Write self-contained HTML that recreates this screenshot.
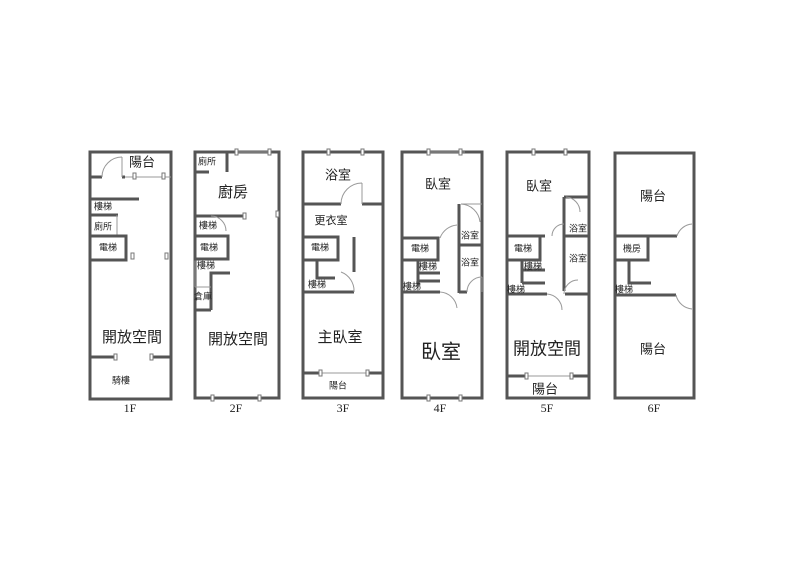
<!DOCTYPE html>
<html><head><meta charset="utf-8"><style>
body{margin:0;background:#fff;width:800px;height:565px;overflow:hidden}
svg{display:block}
.w{stroke:#555;stroke-width:3;fill:none}
.t{stroke:#999;stroke-width:1;fill:none}
.win{fill:#fff;stroke:#777;stroke-width:1}
text{font-family:"Liberation Sans","Noto Sans CJK TC",sans-serif;fill:#222;text-anchor:middle;dominant-baseline:middle}
.s{font-size:9px}.m{font-size:13px}.l{font-size:15px}.xl{font-size:20px}
.f{font-family:"Liberation Serif",serif;font-size:12px}
</style></head><body>
<svg width="800" height="565" viewBox="0 0 800 565">
<!-- outer rects -->
<rect class="w" x="90" y="152" width="81" height="247"/>
<rect class="w" x="195" y="152" width="84" height="246"/>
<rect class="w" x="303" y="152" width="80" height="246"/>
<rect class="w" x="402" y="152" width="80" height="246"/>
<rect class="w" x="507" y="152" width="82" height="246"/>
<rect class="w" x="615" y="153" width="79" height="245"/>

<!-- 1F -->
<path class="w" d="M90 177H102 M122 177H125 M90 199H139 M90 215H118 M90 357H116 M152 357H171"/>
<path class="t" d="M125 177H171 M102 177A20 20 0 0 1 122 157 M122 157V177 M117 215V236"/>
<rect class="w" x="90" y="236" width="36" height="24"/>
<rect class="win" x="131" y="253" width="3" height="6"/><rect class="win" x="165" y="253" width="3" height="6"/>
<rect class="win" x="133" y="173" width="3" height="6"/><rect class="win" x="162" y="173" width="3" height="6"/>
<rect class="win" x="114" y="354" width="3" height="6"/><rect class="win" x="150" y="354" width="3" height="6"/>
<text class="m" x="142" y="163">陽台</text>
<text class="s" x="103" y="207">樓梯</text>
<text class="s" x="103" y="227">廁所</text>
<text class="s" x="108" y="248">電梯</text>
<text class="l" x="132" y="338">開放空間</text>
<text class="s" x="121" y="381">騎樓</text>
<text class="f" x="130" y="409">1F</text>

<!-- 2F -->
<path class="w" d="M195 172H209 M227 152V172 M195 216H244 M211 310V273H230 M195 310H211"/>
<path class="t" d="M237 152H270 M211 216A15 15 0 0 1 226 231 M195 287H211 M195 260V287"/>
<rect class="w" x="195" y="236" width="33" height="23"/>
<rect class="win" x="235" y="149" width="3" height="6"/><rect class="win" x="268" y="149" width="3" height="6"/>
<rect class="win" x="243" y="213" width="3" height="6"/><rect class="win" x="276" y="211" width="3" height="6"/>
<rect class="win" x="211" y="395" width="3" height="6"/><rect class="win" x="258" y="395" width="3" height="6"/>
<text class="s" x="207" y="162">廁所</text>
<text class="l" x="233" y="193">廚房</text>
<text class="s" x="208" y="226">樓梯</text>
<text class="s" x="209" y="248">電梯</text>
<text class="s" x="206" y="266">樓梯</text>
<text class="s" x="203" y="297">倉庫</text>
<text class="l" x="238" y="340">開放空間</text>
<text class="f" x="236" y="409">2F</text>

<!-- 3F -->
<path class="w" d="M303 204H341 M362 204H383 M354 237V272 M317 260V278H335 M303 292H354 M303 373H320 M368 373H383"/>
<path class="t" d="M341 204A21 21 0 0 1 362 183 M362 183V204 M341 272A20 20 0 0 1 354 292 M320 373H368"/>
<rect class="w" x="303" y="237" width="35" height="23"/>
<rect class="win" x="327" y="149" width="3" height="6"/><rect class="win" x="361" y="149" width="3" height="6"/>
<rect class="win" x="319" y="370" width="3" height="6"/><rect class="win" x="366" y="370" width="3" height="6"/>
<text class="m" x="338" y="176">浴室</text>
<text class="s" x="331" y="221" style="font-size:11px">更衣室</text>
<text class="s" x="320" y="248">電梯</text>
<text class="s" x="317" y="285">樓梯</text>
<text class="l" x="340" y="338">主臥室</text>
<text class="s" x="338" y="386">陽台</text>
<text class="f" x="343" y="409">3F</text>

<!-- 4F -->
<path class="w" d="M459 204V293 M459 245H482 M418 260V285 M418 273H440 M418 281H440 M402 292H440 M459 292H467"/>
<path class="t" d="M461 204H482 M461 204A20 20 0 0 1 480 222 M440 238A20 20 0 0 1 457 225 M440 292A18 18 0 0 1 457 308 M467 292A15 15 0 0 1 482 277 M482 277V292 M430 152H465"/>
<rect class="w" x="402" y="238" width="36" height="22"/>
<rect class="win" x="427" y="149" width="3" height="6"/><rect class="win" x="459" y="149" width="3" height="6"/>
<rect class="win" x="427" y="395" width="3" height="6"/><rect class="win" x="459" y="395" width="3" height="6"/>
<text class="m" x="438" y="185">臥室</text>
<text class="s" x="470" y="236">浴室</text>
<text class="s" x="470" y="263">浴室</text>
<text class="s" x="420" y="249">電梯</text>
<text class="s" x="428" y="267">樓梯</text>
<text class="s" x="412" y="287">樓梯</text>
<text class="xl" x="441" y="353">臥室</text>
<text class="f" x="440" y="409">4F</text>

<!-- 5F -->
<path class="w" d="M564 197V291 M564 197H589 M507 236H545 M564 236H589 M522 260V283 M522 270H545 M522 283H545 M507 294H547 M565 294H589 M507 376H526 M571 376H589"/>
<path class="t" d="M566 197A15 15 0 0 1 580 212 M552 236A12 12 0 0 1 564 224 M547 294A16 16 0 0 1 562 310 M564 294A14 14 0 0 1 578 280 M526 376H571"/>
<rect class="w" x="507" y="236" width="33" height="24"/>
<rect class="win" x="532" y="149" width="3" height="6"/><rect class="win" x="564" y="149" width="3" height="6"/>
<rect class="win" x="525" y="373" width="3" height="6"/><rect class="win" x="570" y="373" width="3" height="6"/>
<text class="m" x="539" y="187">臥室</text>
<text class="s" x="578" y="229">浴室</text>
<text class="s" x="578" y="259">浴室</text>
<text class="s" x="523" y="249">電梯</text>
<text class="s" x="533" y="267">樓梯</text>
<text class="s" x="516" y="290">樓梯</text>
<text class="l" x="547" y="350" style="font-size:17px">開放空間</text>
<text class="m" x="545" y="390">陽台</text>
<text class="f" x="547" y="409">5F</text>

<!-- 6F -->
<path class="w" d="M615 236H677 M629 260V283H651 M615 295H676"/>
<path class="t" d="M677 236A17 17 0 0 1 692 224 M676 295A18 18 0 0 0 692 309"/>
<rect class="w" x="615" y="236" width="33" height="24"/>
<text class="m" x="653" y="197">陽台</text>
<text class="s" x="632" y="249">機房</text>
<text class="s" x="624" y="290">樓梯</text>
<text class="m" x="653" y="350">陽台</text>
<text class="f" x="654" y="409">6F</text>
</svg>
</body></html>
